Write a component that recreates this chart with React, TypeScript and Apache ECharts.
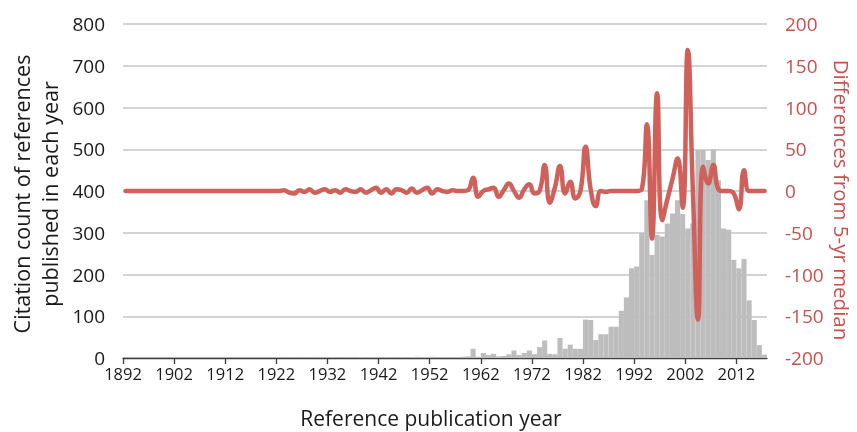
import React, { useEffect, useRef } from "react";
import * as echarts from "echarts";

const START_YEAR = 1892;

// Citation count of references published in each year, 1892..2017
const citationCounts = [
  0, 0, 0, 0, 0, 0, 0, 0, 0, 0, // 1892-1901
  0, 0, 0, 0, 0, 0, 0, 0, 0, 0, // 1902-1911
  0, 0, 0, 0, 0, 0, 0, 0, 0, 0, // 1912-1921
  1, 0, 0, 1, 0, 0, 1, 0, 0, 1, // 1922-1931
  0, 1, 0, 1, 1, 0, 2, 1, 1, 2, // 1932-1941
  1, 2, 1, 1, 2, 1, 2, 3, 1, 2, // 1942-1951
  3, 1, 2, 2, 1, 2, 3, 4, 22, 3, // 1952-1961
  12, 7, 10, 4, 5, 9, 18, 7, 12, 18, // 1962-1971
  9, 26, 42, 10, 9, 48, 22, 32, 22, 22, // 1972-1981
  92, 91, 43, 57, 57, 75, 75, 113, 145, 215, // 1982-1991
  219, 299, 378, 247, 295, 291, 322, 346, 378, 345, // 1992-2001
  310, 322, 498, 498, 474, 500, 426, 310, 307, 235, // 2002-2011
  215, 237, 138, 91, 31, 8, // 2012-2017
];

// Differences from 5-yr median, 1892..2017
const medianDiffs = [
  0, 0, 0, 0, 0, 0, 0, 0, 0, 0, // 1892-1901
  0, 0, 0, 0, 0, 0, 0, 0, 0, 0, // 1902-1911
  0, 0, 0, 0, 0, 0, 0, 0, 0, 0, // 1912-1921
  0, 1, -2, -3, 1, -1, 2, -2, 0, 2, // 1922-1931
  -1, 1, -2, 2, 0, -1, 2, -2, 1, 4, // 1932-1941
  -2, 2, -3, 2, 1, -2, 3, -2, 1, 4, // 1942-1951
  -3, 2, 0, -1, 1, 0, 0, 1, 16, -7, // 1952-1961
  0, 2, 4, -7, 1, 9, 0, -8, 2, 8, // 1962-1971
  -3, 0, 31, -14, 4, 30, -3, 11, -9, 0, // 1972-1981
  53, 2, -18, 0, -1, 0, 0, 0, 0, 0, // 1982-1991
  0, 2, 80, -57, 117, -35, -10, 14, 39, -20, // 1992-2001
  169, 0, -154, 29, 9, 31, 2, 0, 0, -3, // 2002-2011
  -22, 25, 0, 0, 0, 0, // 2012-2017
];

const xTickYears = [1892, 1902, 1912, 1922, 1932, 1942, 1952, 1962, 1972, 1982, 1992, 2002, 2012];

const LEFT_TITLE = "Citation count of references\npublished in each year";
const RIGHT_TITLE = "Differences from 5-yr median";
const X_TITLE = "Reference publication year";

const FONT = "Open Sans";
const RED = "#d0605a";
const RED_TEXT = "#c9504c";
const DARK = "#1a1a1a";

export default function App() {
  const ref = useRef<HTMLDivElement>(null);
  useEffect(() => {
    if (!ref.current) return;
    const chart = echarts.init(ref.current, null, { renderer: "svg" });
    const barData = citationCounts.map((v, i) => [START_YEAR + i + 0.5, v]);
    const lineData = medianDiffs.map((v, i) => [START_YEAR + i + 0.5, v]);
    chart.setOption({
      animation: false,
      textStyle: { fontFamily: FONT },
      grid: { left: 123, right: 90, top: 24, bottom: 74 },
      xAxis: {
        type: "value",
        min: 1892,
        max: 2018,
        interval: 10,
        axisLine: { show: true, lineStyle: { color: "#404040", width: 1.3 } },
        axisTick: {
          show: true,
          customValues: xTickYears,
          length: 6,
          lineStyle: { color: "#404040", width: 1.3 },
        },
        axisLabel: {
          customValues: xTickYears,
          formatter: (v: number) => String(v),
          fontSize: 16.5,
          color: DARK,
          margin: 7,
          fontFamily: FONT,
        },
        splitLine: { show: false },
      },
      yAxis: [
        {
          type: "value",
          min: 0,
          max: 800,
          interval: 100,
          axisLine: { show: false },
          axisTick: { show: false },
          axisLabel: { fontSize: 19, color: DARK, margin: 18, fontFamily: FONT },
          splitLine: { show: true, lineStyle: { color: "#c4c4c4", width: 1.5 } },
        },
        {
          type: "value",
          min: -200,
          max: 200,
          interval: 50,
          position: "right",
          axisLine: { show: false },
          axisTick: { show: false },
          axisLabel: { fontSize: 19, color: RED_TEXT, margin: 18, fontFamily: FONT },
          splitLine: { show: false },
        },
      ],
      series: [
        {
          type: "bar",
          data: barData,
          yAxisIndex: 0,
          barWidth: "100%",
          itemStyle: { color: "#bdbdbd", borderWidth: 0 },
          z: 2,
        },
        {
          type: "line",
          data: lineData,
          yAxisIndex: 1,
          smooth: 0.5,
          symbol: "none",
          lineStyle: { color: RED, width: 4.5, cap: "round", join: "round" },
          z: 3,
        },
      ],
      graphic: [
        {
          type: "text",
          x: 35,
          y: 194,
          rotation: Math.PI / 2,
          style: {
            text: LEFT_TITLE,
            fontSize: 21.5,
            fontFamily: FONT,
            fill: DARK,
            align: "center",
            verticalAlign: "middle",
            lineHeight: 28,
          },
        },
        {
          type: "text",
          x: 842,
          y: 200,
          rotation: -Math.PI / 2,
          style: {
            text: RIGHT_TITLE,
            fontSize: 20.5,
            fontFamily: FONT,
            fill: RED_TEXT,
            align: "center",
            verticalAlign: "middle",
          },
        },
        {
          type: "text",
          x: 431,
          y: 418,
          style: {
            text: X_TITLE,
            fontSize: 21,
            fontFamily: FONT,
            fill: DARK,
            align: "center",
            verticalAlign: "middle",
          },
        },
      ],
    });
    return () => chart.dispose();
  }, []);
  return (
    <div
      ref={ref}
      style={{ position: "fixed", left: 0, top: 0, width: 857, height: 432 }}
    />
  );
}
